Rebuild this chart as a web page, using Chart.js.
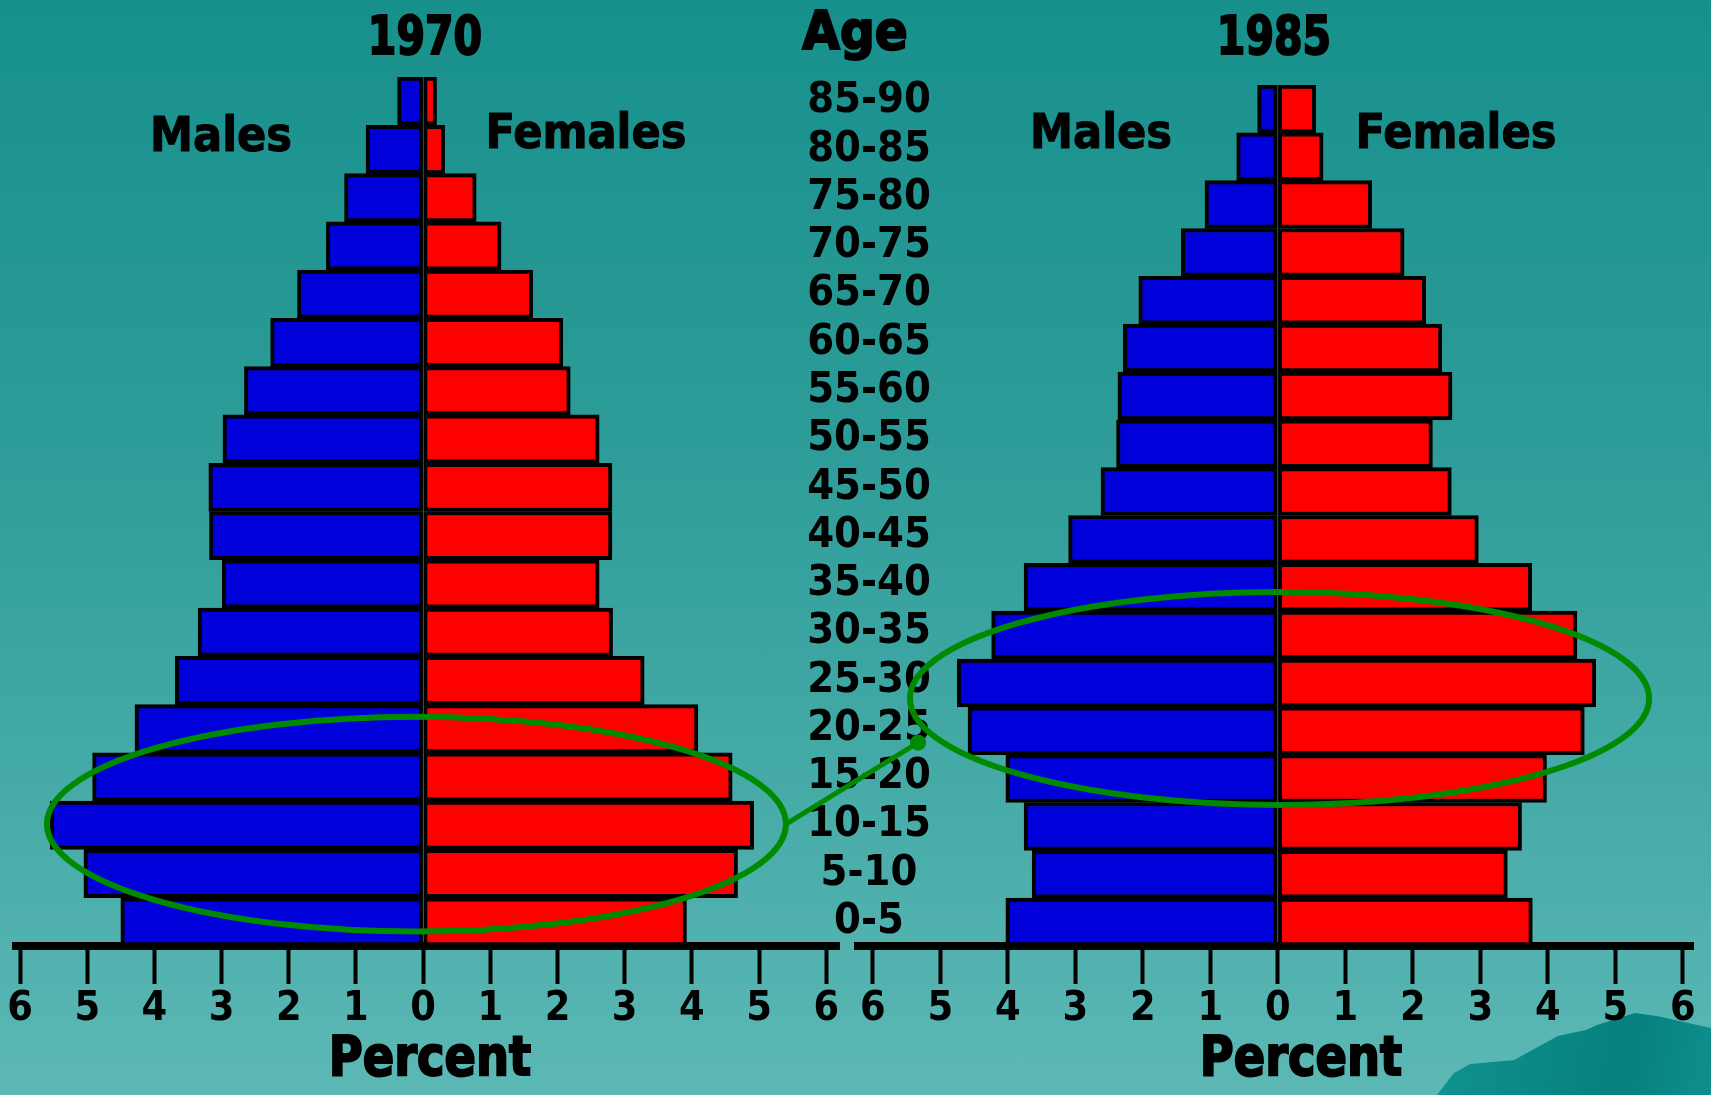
<!DOCTYPE html>
<html>
<head>
<meta charset="utf-8">
<title>Population pyramids 1970 and 1985</title>
<script src="https://cdn.jsdelivr.net/npm/chart.js@4.4.1/dist/chart.umd.min.js"></script>
<style>
  html, body { margin: 0; padding: 0; }
  body {
    width: 1711px; height: 1095px; overflow: hidden; position: relative;
    background: linear-gradient(180deg, #17908c 0%, #2d9c98 40%, #5cb8b5 100%);
    font-family: 'DejaVu Sans Condensed', 'DejaVu Sans', sans-serif;
    font-stretch: condensed;
  }
  canvas { position: absolute; left: 0; top: 0; }
  .lbl {
    position: absolute; white-space: nowrap; font-weight: bold; color: #000;
    line-height: 1; transform-origin: 50% 0; -webkit-text-stroke: 1px #000;
  }
  .big { -webkit-text-stroke: 2px #000; }
  .hill {
    position: absolute; left: 1430px; top: 1000px; width: 281px; height: 95px;
    background: linear-gradient(100deg, #109492 0%, #0a8685 45%, #07807f 70%, #0e8f8d 100%);
    clip-path: polygon(7px 95px, 24px 73px, 40px 64px, 84px 60px, 128px 36px, 156px 30px,
                       167px 25px, 205px 13px, 227px 16px, 249px 21px, 281px 28px, 281px 95px);
  }
</style>
</head>
<body>
<div class="hill"></div>
<canvas id="left" width="1711" height="1095"></canvas>
<canvas id="right" width="1711" height="1095"></canvas>

<div class="lbl big" style="left:425px; top:9px; font-size:54px; transform:translateX(-50%) scaleX(0.845);">1970</div>
<div class="lbl big" style="left:1274px; top:9px; font-size:54px; transform:translateX(-50%) scaleX(0.845);">1985</div>
<div class="lbl big" style="left:855px; top:4px; font-size:54px; transform:translateX(-50%);">Age</div>
<div class="lbl" style="left:221px; top:110px; font-size:48px; transform:translateX(-50%);">Males</div>
<div class="lbl" style="left:586px; top:107px; font-size:48px; transform:translateX(-50%);">Females</div>
<div class="lbl" style="left:1101px; top:107px; font-size:48px; transform:translateX(-50%);">Males</div>
<div class="lbl" style="left:1456px; top:107px; font-size:48px; transform:translateX(-50%);">Females</div>
<div class="lbl big" style="left:430px; top:1028px; font-size:56px; transform:translateX(-50%) scaleX(0.92);">Percent</div>
<div class="lbl big" style="left:1301px; top:1028px; font-size:56px; transform:translateX(-50%) scaleX(0.92);">Percent</div>

<script>
// Age groups, oldest at the top
const AGE_GROUPS = ['85-90', '80-85', '75-80', '70-75', '65-70', '60-65', '55-60', '50-55', '45-50',
                    '40-45', '35-40', '30-35', '25-30', '20-25', '15-20', '10-15', '5-10', '0-5'];

// Share of the total population (%) in each age group
const MALES_1970   = [0.38, 0.85, 1.17, 1.44, 1.87, 2.27, 2.66, 2.98, 3.19, 3.18, 2.99, 3.35, 3.69, 4.29, 4.92, 5.55, 5.05, 4.50];
const FEMALES_1970 = [0.20, 0.32, 0.79, 1.16, 1.63, 2.08, 2.19, 2.62, 2.81, 2.81, 2.62, 2.82, 3.29, 4.09, 4.60, 4.92, 4.68, 3.92];
const MALES_1985   = [0.30, 0.61, 1.08, 1.43, 2.06, 2.29, 2.37, 2.39, 2.62, 3.10, 3.76, 4.24, 4.75, 4.59, 4.03, 3.76, 3.64, 4.03];
const FEMALES_1985 = [0.56, 0.67, 1.39, 1.87, 2.19, 2.43, 2.58, 2.29, 2.57, 2.97, 3.76, 4.43, 4.71, 4.54, 3.98, 3.61, 3.40, 3.77];

// Percent axis ranges; the axis bar runs a little past the 6% ticks
const RANGE_1970 = { min: -6.06, max: 6.19 };
const RANGE_1985 = { min: -6.22, max: 6.15 };

// Baby-boom cohort ring in each pyramid: percent span and age-group index span
const RING_1970 = { x: [-5.6, 5.4], y: [12.75, 17.2] };
const RING_1985 = { x: [-5.45, 5.5], y: [10.1, 14.55] };
// Where the cohort link meets the 1985 ring (percent, age-group index)
const LINK_END_1985 = { x: -5.33, y: 13.25 };

const BLUE = '#0000da';
const RED = '#ff0000';
const GREEN = '#008a00';
const FONT = "'DejaVu Sans Condensed', 'DejaVu Sans', sans-serif";
const AGE_FONT = { family: FONT, size: 43, weight: 'bold condensed' };

// Category axis whose labels may spill past its own box
class AgeScale extends Chart.CategoryScale {
  _computeLabelArea() { return undefined; }
}
AgeScale.id = 'ageCategory';
AgeScale.defaults = Chart.CategoryScale.defaults;
Chart.register(AgeScale);

// Widest age label, so the label column can be centred between the pyramids
const measureCtx = document.createElement('canvas').getContext('2d');
measureCtx.font = `${AGE_FONT.weight} ${AGE_FONT.size}px ${AGE_FONT.family}`;
const widestAge = Math.max(...AGE_GROUPS.map(s => measureCtx.measureText(s).width));

function pyramidData(males, females) {
  const common = {
    borderColor: '#000', borderWidth: 4, borderSkipped: false,
    barPercentage: 1, categoryPercentage: 1
  };
  return {
    labels: AGE_GROUPS,
    datasets: [
      Object.assign({ label: 'Males', data: males.map(v => -v), backgroundColor: BLUE }, common),
      Object.assign({ label: 'Females', data: females, backgroundColor: RED }, common)
    ]
  };
}

function percentAxis(range) {
  return {
    type: 'linear', min: range.min, max: range.max, stacked: true, position: 'bottom',
    ticks: {
      stepSize: 1, includeBounds: false, autoSkip: false, maxRotation: 0, color: '#000', padding: 1,
      font: { family: FONT, size: 41, weight: 'bold condensed' },
      callback: v => Math.abs(v)
    },
    grid: { drawOnChartArea: false, drawTicks: true, tickLength: 38, tickWidth: 4, tickColor: '#000' },
    border: { display: true, width: 8, color: '#000' },
    afterFit(scale) { scale.height = 149; }
  };
}

const baseOptions = {
  indexAxis: 'y', responsive: false, animation: false, devicePixelRatio: 1,
  plugins: { legend: { display: false }, tooltip: { enabled: false } }
};

const leftChart = new Chart(document.getElementById('left'), {
  type: 'bar',
  data: pyramidData(MALES_1970, FEMALES_1970),
  options: Object.assign({}, baseOptions, {
    layout: { padding: { left: 16, right: 758, top: 77, bottom: 0 } },
    scales: {
      x: percentAxis(RANGE_1970),
      y: {
        type: 'ageCategory', stacked: true, position: 'right',
        ticks: {
          autoSkip: false, color: '#000', crossAlign: 'center', padding: 22 - widestAge / 2,
          font: AGE_FONT
        },
        grid: { display: false },
        border: { display: false },
        afterFit(scale) { scale.width = 114; }
      }
    }
  })
});

// Draws the cohort rings on both pyramids and the link between them
const cohortRings = {
  id: 'cohortRings',
  afterDraw(chart) {
    const ctx = chart.ctx;
    const ring = (c, spec) => {
      const xs = c.scales.x, ys = c.scales.y;
      const x0 = xs.getPixelForValue(spec.x[0]), x1 = xs.getPixelForValue(spec.x[1]);
      const y0 = ys.getPixelForValue(spec.y[0]), y1 = ys.getPixelForValue(spec.y[1]);
      return { cx: (x0 + x1) / 2, cy: (y0 + y1) / 2, rx: (x1 - x0) / 2, ry: (y1 - y0) / 2 };
    };
    const a = ring(leftChart, RING_1970);
    const b = ring(chart, RING_1985);
    ctx.save();
    ctx.strokeStyle = GREEN;
    ctx.fillStyle = GREEN;
    ctx.lineWidth = 6;
    for (const r of [a, b]) {
      ctx.beginPath();
      ctx.ellipse(r.cx, r.cy, r.rx, r.ry, 0, 0, Math.PI * 2);
      ctx.stroke();
    }
    const ex = chart.scales.x.getPixelForValue(LINK_END_1985.x);
    const ey = chart.scales.y.getPixelForValue(LINK_END_1985.y);
    ctx.lineWidth = 5;
    ctx.beginPath();
    ctx.moveTo(a.cx + a.rx, a.cy);
    ctx.lineTo(ex, ey);
    ctx.stroke();
    ctx.beginPath();
    ctx.arc(ex, ey, 8, 0, Math.PI * 2);
    ctx.fill();
    ctx.restore();
  }
};

const rightChart = new Chart(document.getElementById('right'), {
  type: 'bar',
  data: pyramidData(MALES_1985, FEMALES_1985),
  options: Object.assign({}, baseOptions, {
    layout: { padding: { left: 858, right: 18, top: 85, bottom: 0 } },
    scales: {
      x: percentAxis(RANGE_1985),
      y: { type: 'category', stacked: true, display: false }
    }
  }),
  plugins: [cohortRings]
});
</script>
</body>
</html>
